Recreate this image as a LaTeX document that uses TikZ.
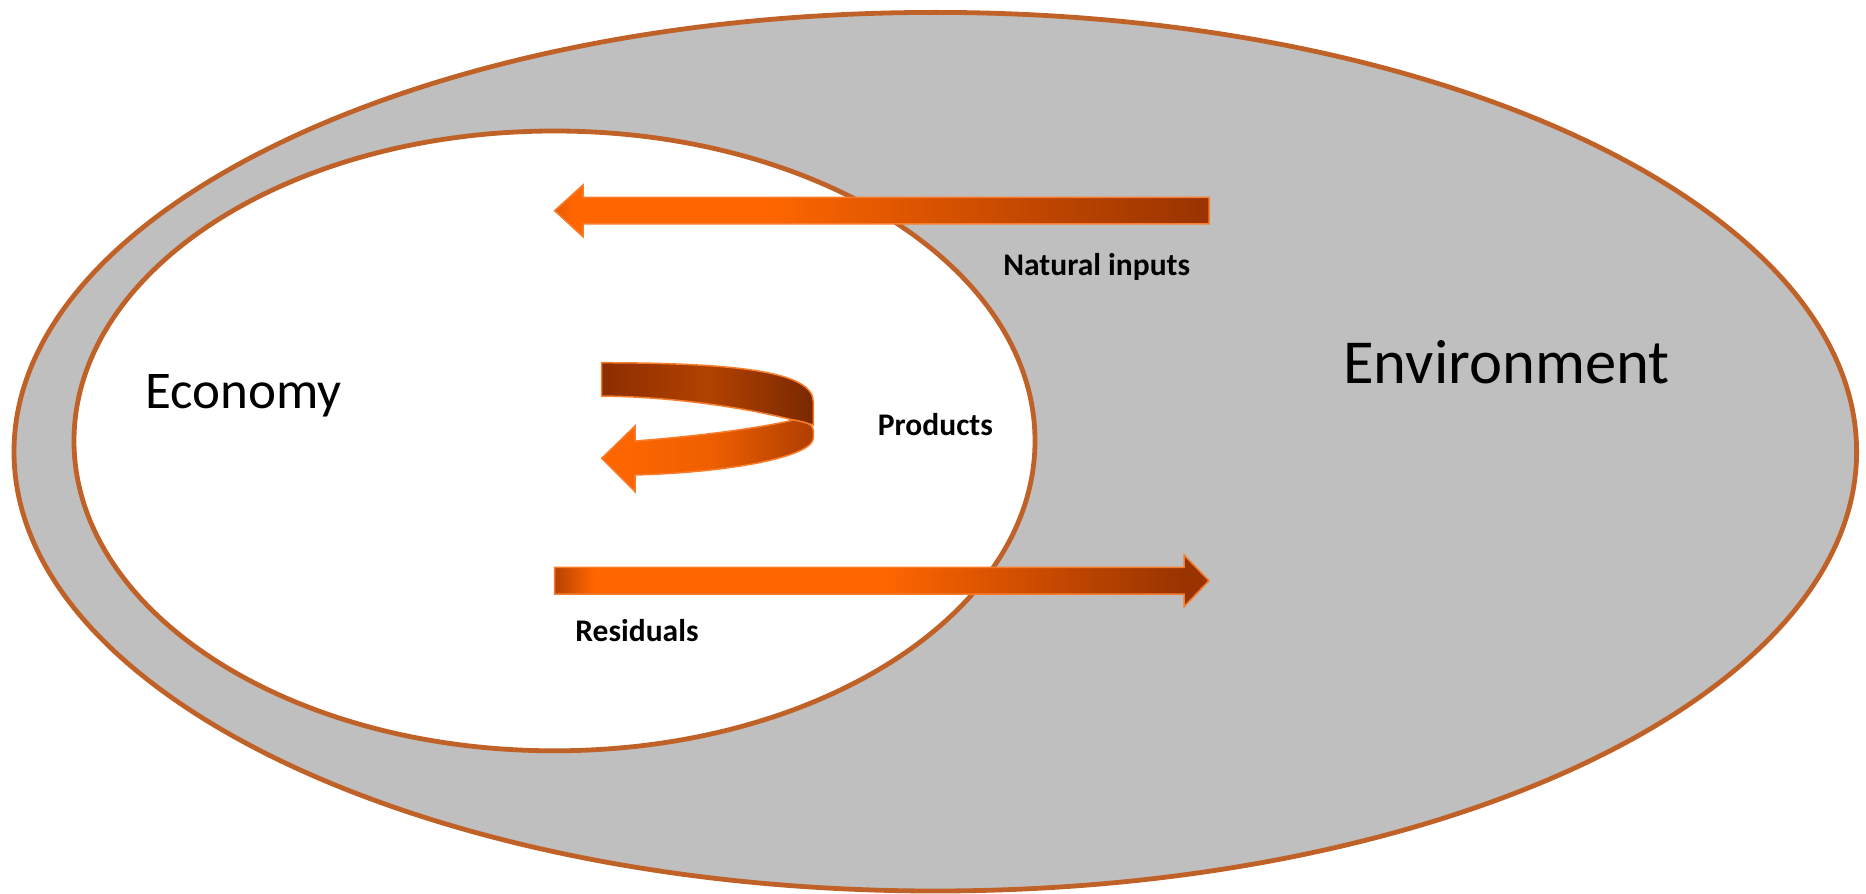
\documentclass[tikz,border=0pt]{standalone}
\usepackage{fontspec}
\setmainfont{Carlito}
\definecolor{arrorange}{RGB}{255,102,0}
\definecolor{arrbrown}{RGB}{153,51,0}
\definecolor{arredge}{RGB}{247,125,45}
\definecolor{ringline}{RGB}{192,98,40}
\definecolor{envgray}{RGB}{191,191,191}
\definecolor{backdark}{RGB}{140,45,0}
\definecolor{backmid}{RGB}{178,66,0}
\definecolor{backend}{RGB}{122,40,0}
\definecolor{frontmid}{RGB}{240,96,0}
\definecolor{frontend}{RGB}{176,62,0}
% flow arrow fills: the 25bp..75bp band spans the arrow's width
\pgfdeclarehorizontalshading{inflowshade}{100bp}{color(0bp)=(arrorange!80!arrbrown); color(25bp)=(arrorange!80!arrbrown); color(26.5bp)=(arrorange); color(41bp)=(arrorange); color(75bp)=(arrbrown); color(100bp)=(arrbrown)}
\pgfdeclarehorizontalshading{outflowshade}{100bp}{color(0bp)=(arrbrown); color(25bp)=(arrbrown!70!arrorange); color(28bp)=(arrorange); color(50bp)=(arrorange); color(73bp)=(arrbrown); color(100bp)=(arrbrown)}
\begin{document}
\begin{tikzpicture}[x=0.5pt,y=-0.5pt,
  ring/.style={draw=ringline, line width=2.4pt},
  flowedge/.style={draw=arredge, line width=0.75pt, line join=miter},
  biglabel/.style={inner sep=0pt, anchor=base west},
  flowlabel/.style={inner sep=0pt, anchor=base west, font=\fontsize{15.75}{18}\selectfont\bfseries}]
\useasboundingbox (0,0) rectangle (1866,893);

% environment and economy
\draw[ring, fill=envgray] (935.3,451.7) ellipse [x radius=460.65pt, y radius=219.65pt];
\draw[ring, fill=white] (554.5,440.9) ellipse [x radius=240.25pt, y radius=154.95pt];

% natural inputs: environment -> economy
\shadedraw[shading=inflowshade, flowedge]
  (1209,197.3) -- (583,197.3) -- (583,185) -- (554.6,210.7) -- (583,236.7) -- (583,224) -- (1209,224) -- cycle;

% residuals: economy -> environment
\shadedraw[shading=outflowshade, flowedge]
  (554.6,567.3) -- (1184,567.3) -- (1184,555) -- (1209,580.7) -- (1184,606.7) -- (1184,594) -- (554.6,594) -- cycle;

% products: loop inside the economy (back band, then front band)
\shadedraw[left color=backdark, right color=backend, middle color=backmid, flowedge]
  (601.7,362.7) .. controls (740,363) and (813,372) .. (813.3,401.7) -- (813.3,425)
  -- (793.3,420) .. controls (750,409) and (680,397) .. (601.7,396) -- cycle;
\shadedraw[left color=arrorange, right color=frontend, middle color=frontmid, flowedge]
  (793.3,420) .. controls (805,422) and (813.3,424) .. (813.3,430) -- (813.3,438.3)
  .. controls (813,455) and (740,472) .. (635,475) -- (635,491.7) -- (601.7,458.3)
  -- (635,426) -- (635,441) .. controls (700,436) and (760,428) .. (793.3,420) -- cycle;

% labels
\node[biglabel, font=\fontsize{26.5}{30}\selectfont] (economy) at (145,408) {Economy};
\node[biglabel, font=\fontsize{31.3}{36}\selectfont] (environment) at (1343,383.3) {Environment};
\node[flowlabel] (natural) at (1003,275) {Natural inputs};
\node[flowlabel] (products) at (877.5,435) {Products};
\node[flowlabel] (residuals) at (575,641.7) {Residuals};
\end{tikzpicture}
\end{document}
